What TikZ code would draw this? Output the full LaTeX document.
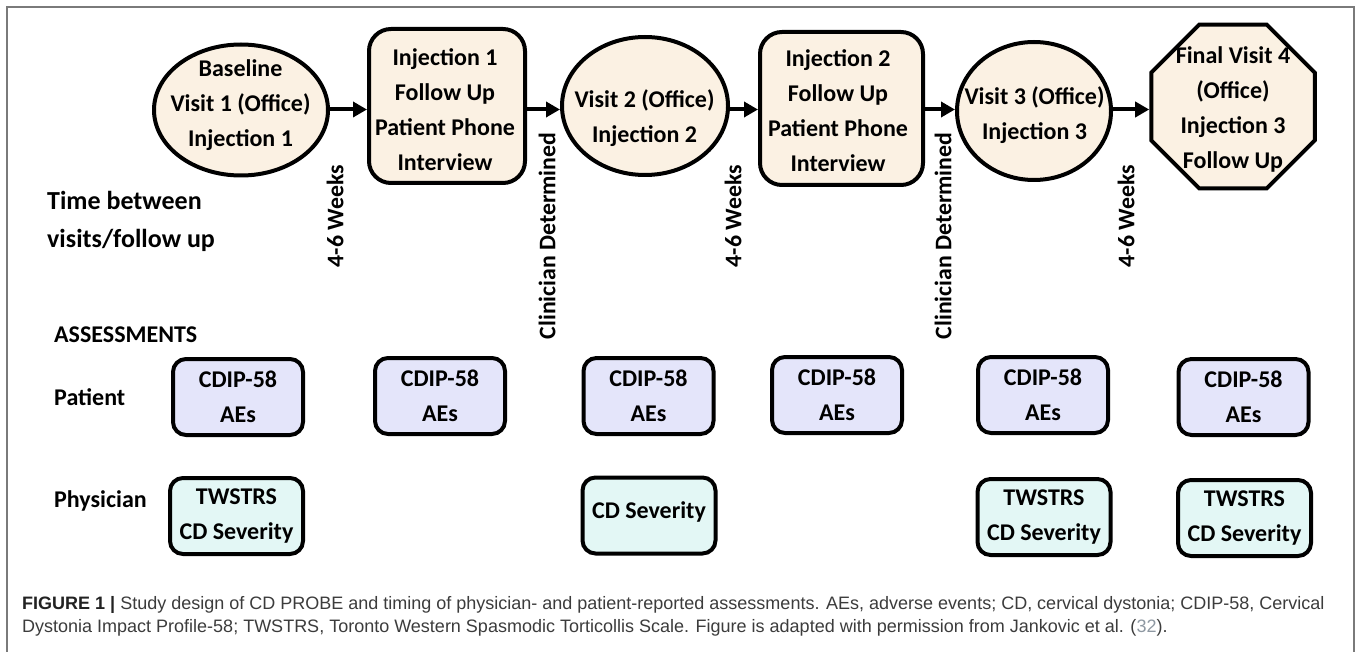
\documentclass[tikz,border=0pt]{standalone}
\usepackage{fontspec}
\usepackage{graphicx}
\setmainfont{Carlito}
\newfontfamily\capfont{Liberation Sans}
\usetikzlibrary{shapes.geometric,arrows.meta}
\definecolor{cream}{HTML}{FBF1E3}
\definecolor{lav}{HTML}{E4E5FA}
\definecolor{mint}{HTML}{E3F7F5}
\definecolor{framegray}{HTML}{7A7A7A}
\definecolor{captext}{HTML}{3C3C3C}
\definecolor{capdark}{HTML}{222222}
\definecolor{reflink}{HTML}{8E98A2}
\begin{document}
\begin{tikzpicture}[x=1pt,y=-1pt,
  big/.style={font=\bfseries\fontsize{24}{35}\selectfont, align=center, inner sep=0pt},
  lbl/.style={font=\bfseries\fontsize{24}{35}\selectfont, align=left, inner sep=0pt, anchor=west},
  rot/.style={font=\bfseries\fontsize{23.8}{28}\selectfont, inner sep=0pt, rotate=90},
  visit/.style={ellipse, draw, line width=4pt, fill=cream, inner sep=0pt},
  fup/.style={rectangle, rounded corners=22pt, draw, line width=4pt, fill=cream, inner sep=0pt},
  octa/.style={regular polygon, regular polygon sides=8, draw, line width=4pt, fill=cream, inner sep=0pt, minimum size=177pt},
  pbox/.style={rectangle, rounded corners=13pt, draw, line width=4pt, fill=lav, minimum width=130pt, minimum height=76pt, inner sep=0pt},
  dbox/.style={rectangle, rounded corners=13pt, draw, line width=4pt, fill=mint, minimum width=133pt, minimum height=76pt, inner sep=0pt},
  flow/.style={-{Triangle[length=14pt,width=15pt]}, line width=4pt},
  captxt/.style={font=\capfont\fontsize{18}{22}\selectfont, text=captext, anchor=west, inner sep=0pt}
]
\fill[white] (0,0) rectangle (1357,652);
\useasboundingbox (0,0) rectangle (1357,652);
\draw[framegray, line width=1.5pt] (7,652) -- (7,7) -- (1354,7) -- (1354,652);

% timeline shapes
\node[visit, minimum width=174pt, minimum height=131pt] (e1) at (241,110) {};
\node[fup, minimum width=156pt, minimum height=154pt] (b1) at (447,106) {};
\node[visit, minimum width=166pt, minimum height=138pt] (e2) at (645,106) {};
\node[fup, minimum width=163pt, minimum height=153pt] (b2) at (841.5,108.5) {};
\node[visit, minimum width=154pt, minimum height=138pt] (e3) at (1034,111) {};
\node[octa] (oc) at (1233,106.5) {};

\node[big] (e1t) at (240.5,105.5) {Baseline\\Visit 1 (Office)\\Injection 1};
\node[big] (b1t) at (445,109.5) {Injection 1\\Follow Up\\Patient Phone\\Interview};
\node[big] (e2t) at (644.5,118) {Visit 2 (Office)\\Injection 2};
\node[big] (b2t) at (838,110.5) {Injection 2\\Follow Up\\Patient Phone\\Interview};
\node[big] (e3t) at (1034.5,115) {Visit 3 (Office)\\Injection 3};
\node[big] (oct) at (1233,109.5) {Final Visit 4\\(Office)\\Injection 3\\Follow Up};

% arrows
\coordinate (ay) at (0,109.5);
\draw[flow] (e1.east |- ay) -- (b1.west |- ay);
\draw[flow] (b1.east |- ay) -- (e2.west |- ay);
\draw[flow] (e2.east |- ay) -- (b2.west |- ay);
\draw[flow] (b2.east |- ay) -- (e3.west |- ay);
\draw[flow] (e3.east |- ay) -- (oc.west |- ay);

% interval labels
\node[rot] (w1) at (335,216) {4-6 Weeks};
\node[rot] (c1) at (547,236) {Clinician Determined};
\node[rot] (w2) at (733,216) {4-6 Weeks};
\node[rot] (c2) at (943,236) {Clinician Determined};
\node[rot] (w3) at (1126,216) {4-6 Weeks};

% left labels
\node[lbl, font=\bfseries\fontsize{26}{38}\selectfont] (tb) at (47,221) {Time between\\visits/follow up};
\node[lbl] (as) at (54,335) {ASSESSMENTS};
\node[lbl] (pa) at (54,397) {Patient};
\node[lbl] (ph) at (54,501) {Physician};

% patient assessments
\node[pbox] (p1) at (238,397) {};
\node[pbox] (p2) at (440,396) {};
\node[pbox] (p3) at (648.5,396) {};
\node[pbox] (p4) at (837,395) {};
\node[pbox] (p5) at (1043,395) {};
\node[pbox] (p6) at (1243.5,397) {};
\foreach \n in {1,...,6}{
  \node[big] (p\n t) at (p\n) {CDIP-58\\AEs};
}

% physician assessments
\node[dbox] (d1) at (236.5,516) {};
\node[dbox] (d2) at (649,515.5) {};
\node[dbox] (d3) at (1044,517) {};
\node[dbox] (d4) at (1244.5,518) {};
\node[big] (d1t) at (d1) {TWSTRS\\CD Severity};
\node[big] (d2t) at (649,512) {CD Severity};
\node[big] (d3t) at (d3) {TWSTRS\\CD Severity};
\node[big] (d4t) at (d4) {TWSTRS\\CD Severity};

% caption
\node[captxt] (cap1) at (22,605) {{\bfseries\color{capdark}FIGURE 1 |} Study design of CD PROBE and timing of physician- and patient-reported assessments. AEs, adverse events; CD, cervical dystonia; CDIP-58, Cervical};
\node[captxt] (cap2) at (22,628) {Dystonia Impact Profile-58; TWSTRS, Toronto Western Spasmodic Torticollis Scale. Figure is adapted with permission from Jankovic et al. ({\color{reflink}32}).};
\end{tikzpicture}
\end{document}
